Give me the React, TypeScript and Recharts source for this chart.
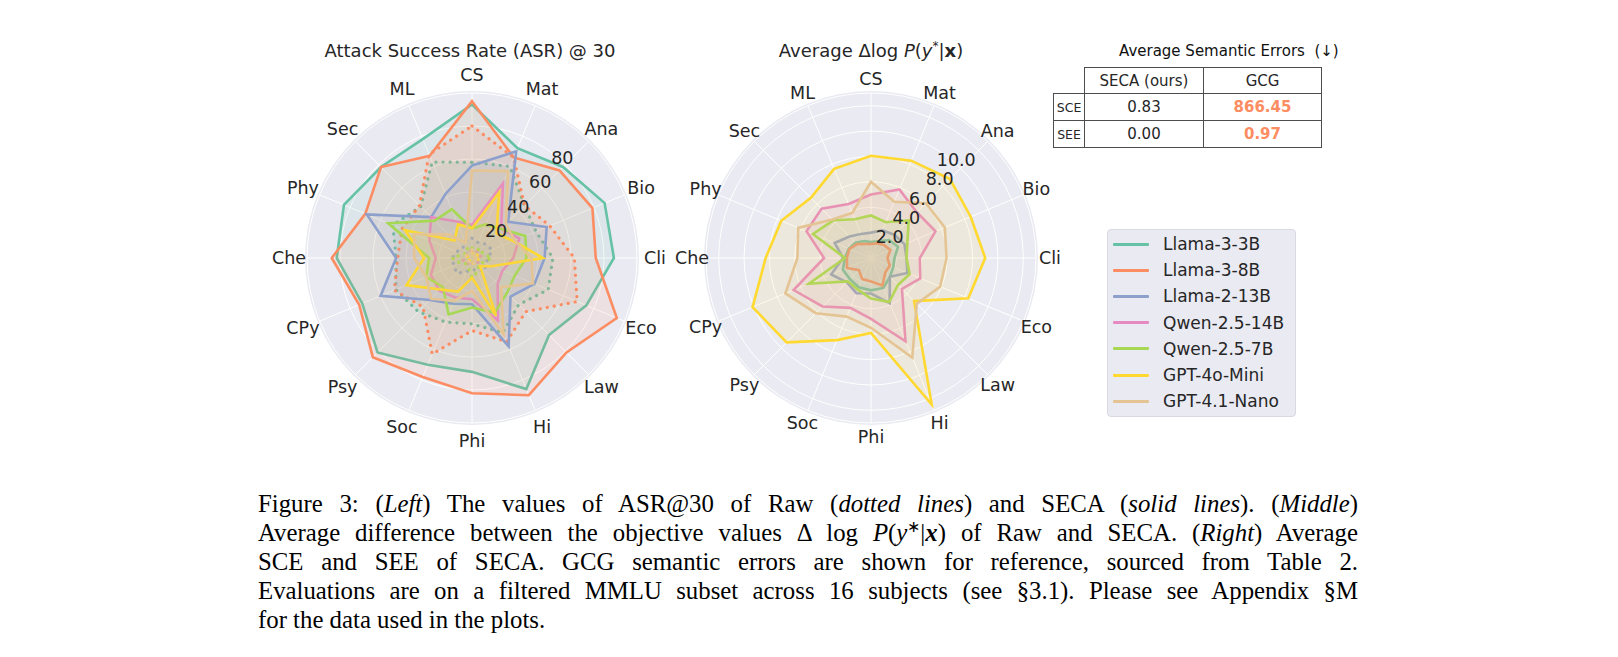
import React from "react";
import {
  RadarChart,
  Radar,
  PolarGrid,
  PolarAngleAxis,
  PolarRadiusAxis,
} from "recharts";

const subjects = [
  "CS", "Mat", "Ana", "Bio", "Cli", "Eco", "Law", "Hi",
  "Phi", "Soc", "Psy", "CPy", "Che", "Phy", "Sec", "ML",
];

const models = [
  "Llama-3-3B",
  "Llama-3-8B",
  "Llama-2-13B",
  "Qwen-2.5-14B",
  "Qwen-2.5-7B",
  "GPT-4o-Mini",
  "GPT-4.1-Nano",
];

const COLORS = [
  "#66c2a5",
  "#fc8d62",
  "#8da0cb",
  "#e78ac3",
  "#a6d854",
  "#ffd92f",
  "#e5c494",
];

// ASR@30 of SECA (solid lines), one value per subject
const secaLlama33B = [93, 72, 78, 87, 86, 75, 66, 86, 69, 70, 81, 72, 82, 84, 78, 78];
const secaLlama38B = [95, 66, 75, 79, 75, 95, 81, 90, 82, 78, 85, 74, 85, 70, 78, 67];
const secaLlama213B = [56, 70, 31, 49, 44, 41, 33, 58, 28, 30, 36, 60, 46, 69, 35, 42];
const secaQwen14B = [20, 49, 25, 31, 25, 20, 22, 41, 25, 26, 28, 27, 22, 28, 35, 24];
const secaQwen7B = [18, 22, 25, 35, 33, 28, 30, 36, 30, 37, 25, 30, 26, 55, 32, 32];
const secaGpt4oMini = [18, 43, 21, 27, 43, 13, 7, 38, 12, 22, 27, 43, 29, 44, 15, 22];
const secaGpt41Nano = [53, 57, 29, 28, 36, 40, 25, 50, 20, 28, 35, 30, 35, 38, 20, 10];

// ASR@30 of Raw (dotted lines)
const rawLlama33B = [58, 60, 45, 42, 49, 50, 40, 49, 40, 42, 46, 50, 46, 52, 44, 63];
const rawLlama38B = [80, 66, 45, 51, 62, 69, 46, 55, 44, 63, 42, 51, 45, 46, 45, 68];
const rawLlama213B = [12, 10, 12, 13, 10, 9, 11, 8, 7, 9, 13, 12, 12, 10, 8, 11];
const rawQwen14B = [4, 6, 5, 6, 5, 4, 5, 3, 4, 5, 4, 6, 5, 4, 5, 5];
const rawQwen7B = [6, 5, 8, 7, 12, 7, 6, 9, 12, 6, 5, 8, 12, 6, 4, 7];
const rawGpt4oMini = [3, 4, 3, 4, 5, 3, 2, 3, 4, 3, 2, 3, 4, 3, 2, 3];
const rawGpt41Nano = [5, 3, 2, 3, 4, 2, 3, 4, 2, 3, 3, 2, 3, 4, 3, 2];

// Average Δlog P(y*|x)
const deltaLlama33B = [1.25, 1.43, 2.0, 2.3, 1.85, 1.9, 2.1, 2.55, 2.55, 2.5, 2.35, 2.4, 2.05, 1.9, 1.7, 1.45];
const deltaLlama38B = [1.1, 1.25, 1.45, 1.65, 1.3, 1.6, 1.6, 2.35, 1.85, 1.8, 1.35, 2.05, 1.9, 1.85, 1.55, 1.2];
const deltaLlama213B = [2.0, 2.35, 2.6, 2.85, 2.8, 3.1, 2.1, 3.85, 2.8, 3.0, 2.7, 3.4, 2.2, 3.1, 2.4, 2.05];
const deltaQwen14B = [5.0, 5.85, 5.1, 5.5, 3.85, 4.2, 3.45, 7.1, 4.8, 4.25, 5.4, 6.6, 3.7, 5.5, 5.5, 4.6];
const deltaQwen7B = [3.35, 3.05, 4.2, 3.1, 2.8, 3.3, 3.0, 3.75, 3.2, 2.7, 2.6, 5.3, 2.05, 4.95, 4.2, 3.3];
const deltaGpt4oMini = [8.05, 8.3, 8.8, 8.5, 9.0, 8.3, 4.8, 12.5, 5.9, 7.0, 9.4, 10.1, 8.3, 7.65, 6.7, 7.6];
const deltaGpt41Nano = [6.0, 4.8, 6.1, 6.3, 5.95, 5.9, 5.1, 8.5, 5.5, 5.0, 6.15, 7.3, 5.8, 6.2, 4.3, 3.85];

const asrTicks = [20, 40, 60, 80];
const deltaTicks = [2, 4, 6, 8, 10];

// semantic error table
const tableCols = ["SECA (ours)", "GCG"];
const tableRows = ["SCE", "SEE"];
const secaErrors = ["0.83", "0.00"];
const gcgErrors = ["866.45", "0.97"];

const secaSeries = [secaLlama33B, secaLlama38B, secaLlama213B, secaQwen14B, secaQwen7B, secaGpt4oMini, secaGpt41Nano];
const rawSeries = [rawLlama33B, rawLlama38B, rawLlama213B, rawQwen14B, rawQwen7B, rawGpt4oMini, rawGpt41Nano];
const deltaSeries = [deltaLlama33B, deltaLlama38B, deltaLlama213B, deltaQwen14B, deltaQwen7B, deltaGpt4oMini, deltaGpt41Nano];

const asrData = subjects.map((s, i) => {
  const row: any = { subject: s };
  models.forEach((_, k) => {
    row[`seca${k}`] = secaSeries[k][i];
    row[`raw${k}`] = rawSeries[k][i];
  });
  return row;
});

const deltaData = subjects.map((s, i) => {
  const row: any = { subject: s };
  models.forEach((_, k) => {
    row[`d${k}`] = deltaSeries[k][i];
  });
  return row;
});

const SANS = "'DejaVu Sans', sans-serif";
const TEXT = "#262626";
const BG = "#eaeaf2";
const SIZE = 460;
const C = SIZE / 2;
const R = 165;

function AngleTick(props: any) {
  const { x, y, payload } = props;
  return (
    <text x={x} y={y} textAnchor="middle" dominantBaseline="central"
      fontSize={17.5} fontFamily={SANS} fill={TEXT}>
      {payload.value}
    </text>
  );
}

function radiusTick(show: number[], fmt: (v: number) => string) {
  return (props: any) => {
    const { x, y, payload } = props;
    const v = Number(payload.value);
    if (!show.some((s) => Math.abs(s - v) < 1e-6)) return <g />;
    return (
      <text x={x + 2} y={y - 2} textAnchor="middle" dominantBaseline="central"
        fontSize={17.5} fontFamily={SANS} fill={TEXT}>
        {fmt(v)}
      </text>
    );
  };
}

function Disc() {
  return (
    <div style={{
      position: "absolute", left: C - R - 2, top: C - R - 2,
      width: (R + 2) * 2, height: (R + 2) * 2, borderRadius: "50%", background: BG,
    }} />
  );
}

function AsrRadar() {
  return (
    <div style={{ position: "absolute", left: 234, top: 20, width: SIZE, height: SIZE }}>
      <Disc />
      <div style={{ position: "absolute", left: 0, top: 0 }}>
        <RadarChart width={SIZE} height={SIZE} cx={C} cy={C} outerRadius={R}
          data={asrData} margin={{ top: 0, right: 0, bottom: 0, left: 0 }}>
          <PolarGrid gridType="circle" stroke="#ffffff" strokeWidth={1} />
          <PolarAngleAxis dataKey="subject" tick={<AngleTick />} tickSize={18}
            tickLine={false} axisLine={false} />
          {models.map((m, k) => [
            <Radar key={`raw${k}`} dataKey={`raw${k}`} name={`${m} raw`}
              stroke={COLORS[k]} strokeWidth={3.2} strokeDasharray="0.1 7"
              strokeLinecap="round" fill={COLORS[k]} fillOpacity={0.1}
              isAnimationActive={false} />,
            <Radar key={`seca${k}`} dataKey={`seca${k}`} name={m}
              stroke={COLORS[k]} strokeWidth={2.6} strokeLinejoin="miter"
              fill={COLORS[k]} fillOpacity={0.1} isAnimationActive={false} />,
          ])}
          <PolarRadiusAxis angle={48} domain={[0, 100]} tickCount={6}
            axisLine={false} tickLine={false}
            tick={radiusTick(asrTicks, (v) => String(v))} />
        </RadarChart>
      </div>
    </div>
  );
}

function DeltaRadar() {
  return (
    <div style={{ position: "absolute", left: 633, top: 20, width: SIZE, height: SIZE }}>
      <Disc />
      <div style={{ position: "absolute", left: 0, top: 0 }}>
        <RadarChart width={SIZE} height={SIZE} cx={C} cy={C} outerRadius={R}
          data={deltaData} margin={{ top: 0, right: 0, bottom: 0, left: 0 }}>
          <PolarGrid gridType="circle" stroke="#ffffff" strokeWidth={1} />
          <PolarAngleAxis dataKey="subject" tick={<AngleTick />} tickSize={14}
            tickLine={false} axisLine={false} />
          {models.map((m, k) => (
            <Radar key={`d${k}`} dataKey={`d${k}`} name={m}
              stroke={COLORS[k]} strokeWidth={2.6} fill={COLORS[k]} fillOpacity={0.1}
              isAnimationActive={false} />
          ))}
          <PolarRadiusAxis angle={49} domain={[0, 12.8]} tickCount={8}
            axisLine={false} tickLine={false}
            tick={radiusTick(deltaTicks, (v) => v.toFixed(1))} />
        </RadarChart>
      </div>
    </div>
  );
}

function ErrorTable() {
  const cell: React.CSSProperties = {
    border: "1px solid #4d4d4d", padding: 0, textAlign: "center",
    fontSize: 15, fontFamily: SANS, color: TEXT,
  };
  return (
    <div style={{ position: "absolute", left: 1045, top: 35 }}>
      <div style={{ marginLeft: 66, fontSize: 15, fontFamily: SANS, color: "#111", lineHeight: "17px", height: 24 }}>
        Average Semantic Errors&nbsp;&nbsp;(↓)
      </div>
      <table style={{ borderCollapse: "collapse", tableLayout: "fixed" }}>
        <colgroup>
          <col style={{ width: 31 }} />
          <col style={{ width: 119 }} />
          <col style={{ width: 118 }} />
        </colgroup>
        <tbody>
          <tr style={{ height: 26 }}>
            <td style={{ ...cell, borderTop: "none", borderLeft: "none" }} />
            {tableCols.map((c) => (
              <td key={c} style={cell}>{c}</td>
            ))}
          </tr>
          {tableRows.map((r, i) => (
            <tr key={r} style={{ height: 27 }}>
              <td style={{ ...cell, fontSize: 12.5 }}>{r}</td>
              <td style={cell}>{secaErrors[i]}</td>
              <td style={{ ...cell, color: COLORS[1], fontWeight: "bold" }}>{gcgErrors[i]}</td>
            </tr>
          ))}
        </tbody>
      </table>
    </div>
  );
}

function ModelLegend() {
  return (
    <div style={{
      position: "absolute", left: 1099, top: 221, width: 187, height: 186,
      background: BG, border: "1px solid #d9d9e1", borderRadius: 4,
      fontFamily: SANS, fontSize: 17, color: TEXT,
    }}>
      {models.map((m, k) => (
        <div key={m} style={{
          position: "absolute", left: 5, top: 1 + k * 26.23, height: 26,
          display: "flex", alignItems: "center",
        }}>
          <div style={{ width: 36, height: 3, background: COLORS[k], marginRight: 14, borderRadius: 1 }} />
          <span>{m}</span>
        </div>
      ))}
    </div>
  );
}

const lineStyle: React.CSSProperties = {
  height: 29, textAlign: "justify", textAlignLast: "justify", whiteSpace: "nowrap",
};

function Caption() {
  return (
    <div style={{
      position: "absolute", left: 250, top: 481, width: 1100,
      fontFamily: "'Liberation Serif', 'Times New Roman', serif", fontSize: 24.8,
      lineHeight: "29px", color: "#000",
    }}>
      <div style={lineStyle}>
        Figure 3: (<i>Left</i>) The values of ASR@30 of Raw (<i>dotted lines</i>) and SECA (<i>solid lines</i>). (<i>Middle</i>)
      </div>
      <div style={lineStyle}>
        Average difference between the objective values Δ log <i>P</i>(<i>y</i><sup style={{ fontSize: 16, lineHeight: 0 }}>∗</sup>|<b><i>x</i></b>) of Raw and SECA. (<i>Right</i>) Average
      </div>
      <div style={lineStyle}>
        SCE and SEE of SECA. GCG semantic errors are shown for reference, sourced from Table 2.
      </div>
      <div style={lineStyle}>
        Evaluations are on a filtered MMLU subset across 16 subjects (see §3.1). Please see Appendix §M
      </div>
      <div style={{ height: 29, whiteSpace: "nowrap" }}>for the data used in the plots.</div>
    </div>
  );
}

export default function App() {
  const title: React.CSSProperties = {
    position: "absolute", top: 34, fontFamily: SANS, fontSize: 18, lineHeight: "18px",
    color: TEXT, textAlign: "center", width: 400, whiteSpace: "nowrap",
  };
  return (
    <div style={{ position: "relative", width: 1602, height: 641, background: "#fff" }}>
      <AsrRadar />
      <DeltaRadar />
      <div style={{ ...title, left: 262 }}>Attack Success Rate (ASR) @ 30</div>
      <div style={{ ...title, left: 663 }}>
        Average Δlog <i>P</i>(<i>y</i><sup style={{ fontSize: 12, lineHeight: 0 }}>*</sup>|<b>x</b>)
      </div>
      <ErrorTable />
      <ModelLegend />
      <Caption />
    </div>
  );
}
